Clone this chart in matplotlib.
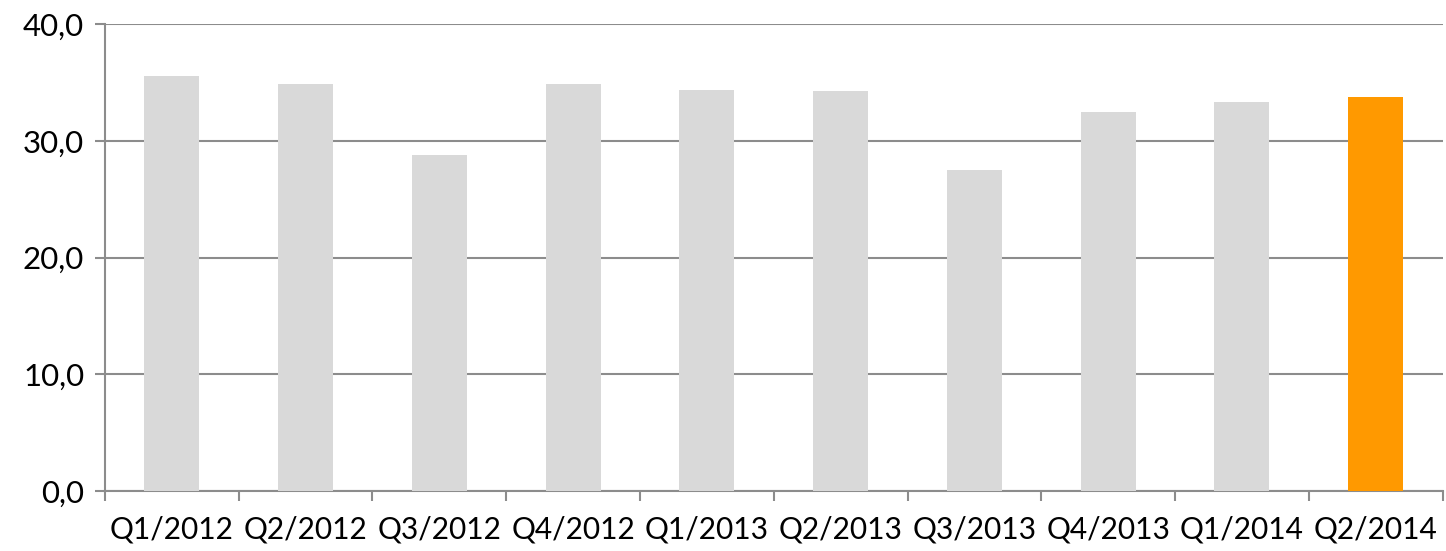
import matplotlib
matplotlib.use("Agg")
import matplotlib.pyplot as plt
from matplotlib.ticker import FuncFormatter, MultipleLocator, FixedLocator

categories = ["Q1/2012", "Q2/2012", "Q3/2012", "Q4/2012", "Q1/2013",
              "Q2/2013", "Q3/2013", "Q4/2013", "Q1/2014", "Q2/2014"]
values = [35.6, 34.9, 28.8, 34.9, 34.4, 34.3, 27.5, 32.5, 33.3, 33.8]
colors = ["#d9d9d9"] * 9 + ["#ff9900"]

plt.rcParams['font.family'] = ['Lato', 'DejaVu Sans']

fig = plt.figure(figsize=(14.46, 5.51), dpi=100)
ax = fig.add_axes([0.0726, 0.109, 0.925, 0.847])

x = list(range(len(categories)))
ax.bar(x, values, width=0.41, color=colors, zorder=3)

ax.set_xlim(-0.5, len(categories) - 0.5)
ax.set_ylim(0, 40)
ax.yaxis.set_major_locator(MultipleLocator(10))
ax.yaxis.set_major_formatter(FuncFormatter(lambda v, p: f"{v:.1f}".replace(".", ",")))
ax.set_xticks(x)
ax.set_xticklabels(categories)
ax.xaxis.set_minor_locator(FixedLocator([i - 0.5 for i in range(len(categories) + 1)]))

gray = "#8c8c8c"
ax.grid(axis="y", color=gray, linewidth=1.5, zorder=0)
for s in ["top", "right"]:
    ax.spines[s].set_visible(False)
for s in ["left", "bottom"]:
    ax.spines[s].set_color(gray)
    ax.spines[s].set_linewidth(1.5)

ax.tick_params(axis="x", which="major", length=0, labelsize=21.5, pad=18)
ax.tick_params(axis="x", which="minor", length=7, width=1.5, color=gray)
ax.tick_params(axis="y", which="major", length=7, width=1.5, color=gray, labelsize=22.5, pad=8)

fig.savefig("out.png", dpi=100, facecolor="white")
